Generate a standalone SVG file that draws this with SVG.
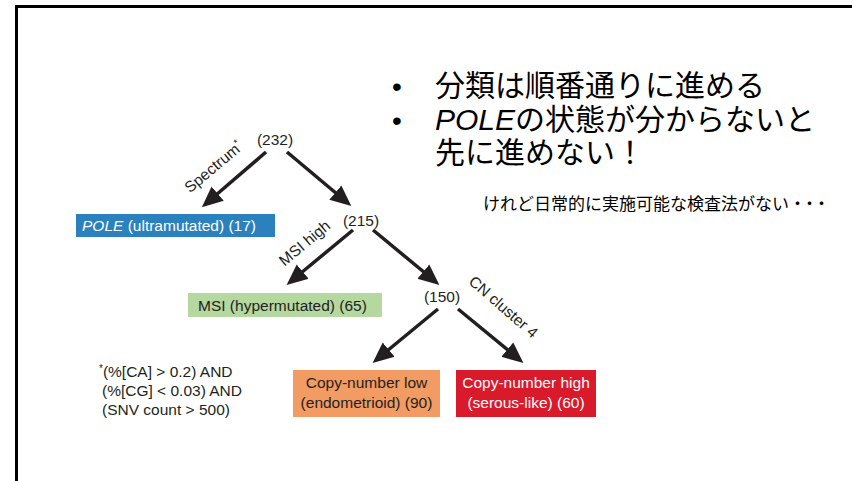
<svg xmlns="http://www.w3.org/2000/svg" width="852" height="481" viewBox="0 0 852 481">
<style>
.t{font-family:"Liberation Sans",Arial,sans-serif;font-size:15.5px;fill:#231f20}
.w{fill:#fff}
.jp{font-family:"Liberation Sans","Noto Sans CJK JP",sans-serif;fill:#000}
.arr{stroke:#231f20;stroke-width:3.5;fill:none;marker-end:url(#ah)}
</style>
<defs>
<marker id="ah" markerUnits="userSpaceOnUse" markerWidth="22" markerHeight="20" refX="2" refY="8.5" orient="auto" viewBox="0 0 20 17">
<path d="M0,0 L19,8.5 L0,17 Z" fill="#231f20"/>
</marker>
</defs>
<rect width="852" height="481" fill="#fff"/>
<g id="frame">
<rect x="15" y="5" width="837" height="3" fill="#000"/>
<rect x="15" y="5" width="3" height="476" fill="#000"/>
</g>
<g id="connectors">
<line class="arr" x1="266" y1="152" x2="216" y2="195"/>
<line class="arr" x1="287" y1="152" x2="337" y2="194"/>
<line class="arr" x1="353" y1="230" x2="301" y2="273"/>
<line class="arr" x1="373" y1="230" x2="425" y2="273"/>
<line class="arr" x1="438" y1="309" x2="387" y2="351"/>
<line class="arr" x1="458" y1="309" x2="509" y2="351"/>
<text class="t" transform="translate(217,171) rotate(-40)" text-anchor="middle">Spectrum<tspan font-size="10" dy="-6">*</tspan></text>
<text class="t" transform="translate(308,247) rotate(-40)" text-anchor="middle">MSI high</text>
<text class="t" transform="translate(500,311) rotate(41)" text-anchor="middle">CN cluster 4</text>
</g>
<g id="n232"><text class="t" x="275" y="145" text-anchor="middle">(232)</text></g>
<g id="n215"><text class="t" x="361" y="226" text-anchor="middle">(215)</text></g>
<g id="n150"><text class="t" x="442" y="302" text-anchor="middle">(150)</text></g>
<g id="pole">
<rect x="76" y="214" width="199" height="23" fill="#2a81bd"/>
<text class="t w" x="82" y="231"><tspan font-style="italic">POLE</tspan> (ultramutated) (17)</text>
</g>
<g id="msi">
<rect x="188" y="293" width="194" height="24" fill="#b5d8a0"/>
<text class="t" x="198" y="311">MSI (hypermutated) (65)</text>
</g>
<g id="cnlow">
<rect x="293" y="370" width="147" height="47" fill="#f29b62"/>
<text class="t" x="366.5" y="388" text-anchor="middle">Copy-number low</text>
<text class="t" x="366.5" y="408" text-anchor="middle">(endometrioid) (90)</text>
</g>
<g id="cnhigh">
<rect x="456" y="370" width="140" height="47" fill="#d81a2b"/>
<text class="t w" x="526" y="388" text-anchor="middle">Copy-number high</text>
<text class="t w" x="526" y="408" text-anchor="middle">(serous-like) (60)</text>
</g>
<g id="footnote">
<text class="t" x="99" y="377"><tspan font-size="10" dy="-5">*</tspan><tspan dy="5">(%[CA] &gt; 0.2) AND</tspan></text>
<text class="t" x="102" y="396">(%[CG] &lt; 0.03) AND</text>
<text class="t" x="102" y="415">(SNV count &gt; 500)</text>
</g>
<g id="notes">
<text class="jp" x="392" y="96" font-size="28">•</text>
<text class="jp" x="435" y="96" font-size="30">分類は順番通りに進める</text>
<text class="jp" x="392" y="130" font-size="28">•</text>
<text class="jp" x="435" y="130" font-size="30"><tspan font-style="italic">POLE</tspan>の状態が分からないと</text>
<text class="jp" x="435" y="163" font-size="30">先に進めない！</text>
<text class="jp" x="483" y="210" font-size="17">けれど日常的に実施可能な検査法がない<tspan letter-spacing="-5">・・・</tspan></text>
</g>
</svg>
